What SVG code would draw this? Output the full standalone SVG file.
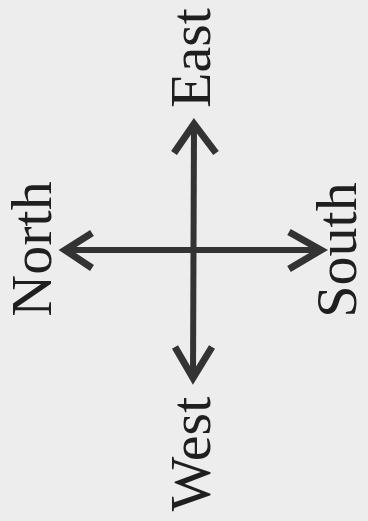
<svg xmlns="http://www.w3.org/2000/svg" width="368" height="521" viewBox="0 0 368 521">
<style>
.bg{fill:#ededed}
.lbl{font-family:"Liberation Serif","Times New Roman",serif;font-size:58px;fill:#1f1f1f;text-anchor:middle}
.ln{stroke:#333;stroke-width:6;fill:none}
.hd{stroke:#333;stroke-width:7;fill:none;stroke-linejoin:miter;stroke-linecap:butt}
</style>
<rect class="bg" x="0" y="0" width="368" height="521"/>
<g id="north"><text class="lbl" transform="translate(51,249) rotate(-90)">North</text></g>
<g id="east"><text class="lbl" transform="translate(210,58) rotate(-90)">East</text></g>
<g id="south"><text class="lbl" transform="translate(356,250) rotate(-90)">South</text></g>
<g id="west"><text class="lbl" transform="translate(210,454) rotate(-90)">West</text></g>
<g id="connectors">
<line class="ln" x1="66" y1="250" x2="321" y2="250"/>
<line class="ln" x1="194" y1="124" x2="193" y2="378"/>
<polyline class="hd" points="92,233 65,250 92,268"/>
<polyline class="hd" points="289,232 321,250 289,269"/>
<polyline class="hd" points="174,153 194,124 216,153"/>
<polyline class="hd" points="175,347 193,378 212,347"/>
</g>
</svg>
